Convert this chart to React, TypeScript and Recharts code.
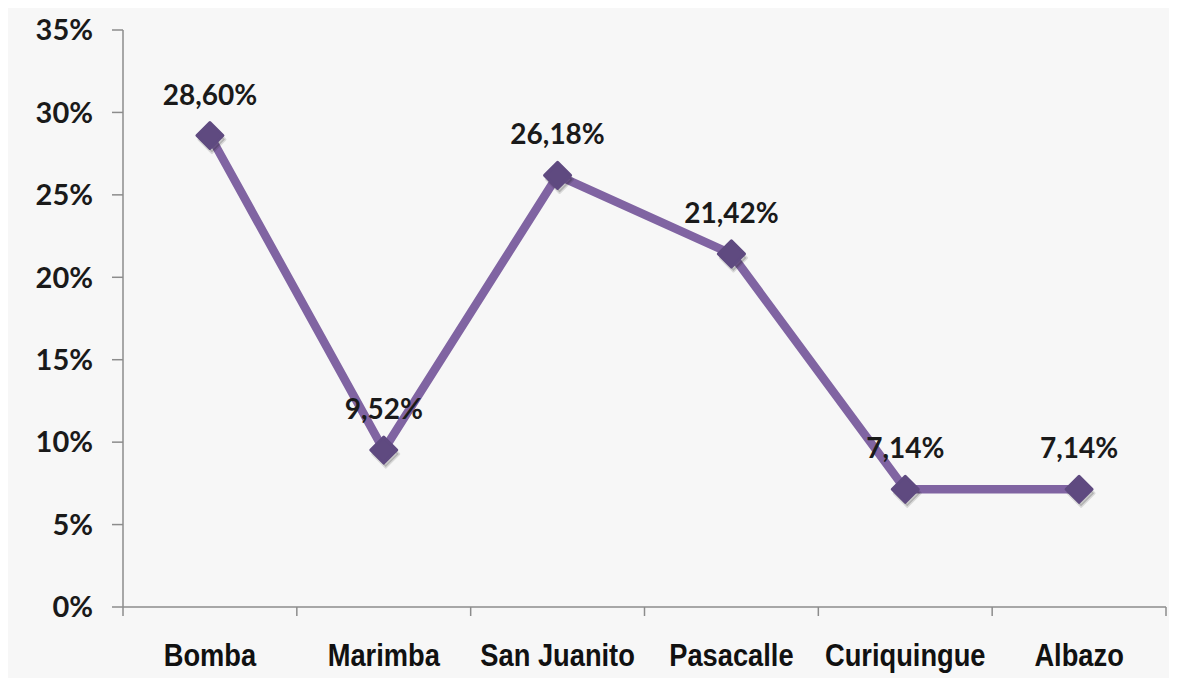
import { LineChart, Line, XAxis, YAxis, LabelList } from 'recharts'

const CATEGORIES = ['Bomba', 'Marimba', 'San Juanito', 'Pasacalle', 'Curiquingue', 'Albazo']
const SHARES = [28.6, 9.52, 26.18, 21.42, 7.14, 7.14]
const Y_TICKS = [0, 5, 10, 15, 20, 25, 30, 35]

const W = 1177
const H = 686
const Y_AXIS_W = 123
const RIGHT = 11
const PLOT_W = W - Y_AXIS_W - RIGHT
const HALF_BAND = PLOT_W / (CATEGORIES.length * 2)

const LINE = '#8064a2'
const MARKER = '#5f4a80'
const AXIS = '#8c8c8c'
const NUM_FONT = 'Lato, "Open Sans", sans-serif'
const CAT_FONT = '"Liberation Sans", Arial, sans-serif'

const fmt = (v: number) => v.toFixed(2).replace('.', ',') + '%'

const data = CATEGORIES.map((name, i) => ({ name, value: SHARES[i] }))

function CatTick(props: any) {
  const { x, y, payload, index } = props
  const last = index === CATEGORIES.length - 1
  return (
    <g>
      <line x1={x - HALF_BAND} y1={y} x2={x - HALF_BAND} y2={y + 9} stroke={AXIS} strokeWidth={1.5} />
      {last && <line x1={x + HALF_BAND} y1={y} x2={x + HALF_BAND} y2={y + 9} stroke={AXIS} strokeWidth={1.5} />}
      {/* the original uses a condensed bold face, so squeeze it a bit */}
      <text
        transform={`translate(${x},${y + 59}) scale(0.88,1)`}
        textAnchor="middle"
        fontFamily={CAT_FONT}
        fontWeight={700}
        fontSize={31}
        fill="#111"
      >
        {payload.value}
      </text>
    </g>
  )
}

function Diamond(props: any) {
  const { cx, cy } = props
  if (cx == null || cy == null) return null
  const r = 13
  const d = (ox: number, oy: number) =>
    `M${cx + ox},${cy - r + oy} L${cx + r + ox},${cy + oy} L${cx + ox},${cy + r + oy} L${cx - r + ox},${cy + oy} Z`
  return (
    <g>
      <path d={d(2, 4)} fill="rgba(0,0,0,0.18)" stroke="rgba(0,0,0,0.12)" strokeWidth={3} strokeLinejoin="round" />
      <path d={d(0, 0)} fill={MARKER} stroke={MARKER} strokeWidth={3} strokeLinejoin="round" />
    </g>
  )
}

function ValueLabel(props: any) {
  const { x, y, value } = props
  return (
    <text x={x} y={y - 31} textAnchor="middle" fontFamily={NUM_FONT} fontWeight={700} fontSize={28} fill="#1a1a1a">
      {fmt(value)}
    </text>
  )
}

export default function App() {
  return (
    <div style={{ margin: -8, width: W, height: H, background: '#fff', position: 'relative' }}>
      <div style={{ position: 'absolute', left: 7, top: 6, right: 0, bottom: 0, background: '#f7f7f7' }} />
      <div style={{ position: 'absolute', left: 0, top: 0 }}>
        <LineChart width={W} height={H} data={data} margin={{ top: 30, right: RIGHT, left: 0, bottom: 0 }}>
          <XAxis
            dataKey="name"
            height={79}
            padding={{ left: HALF_BAND, right: HALF_BAND }}
            axisLine={{ stroke: AXIS, strokeWidth: 1.5 }}
            tickLine={false}
            tickSize={0}
            tickMargin={0}
            interval={0}
            tick={<CatTick />}
          />
          <YAxis
            width={Y_AXIS_W}
            domain={[0, 35]}
            ticks={Y_TICKS}
            interval={0}
            tickFormatter={(v: number) => `${v}%`}
            axisLine={{ stroke: AXIS, strokeWidth: 1.5 }}
            tickLine={{ stroke: AXIS, strokeWidth: 1.5 }}
            tickSize={11}
            tickMargin={19}
            tick={{ fontFamily: NUM_FONT, fontWeight: 700, fontSize: 29, fill: '#1a1a1a' }}
          />
          <Line
            dataKey="value"
            stroke={LINE}
            strokeWidth={8.5}
            dot={<Diamond />}
            activeDot={false}
            isAnimationActive={false}
          >
            <LabelList dataKey="value" content={<ValueLabel />} />
          </Line>
        </LineChart>
      </div>
    </div>
  )
}
